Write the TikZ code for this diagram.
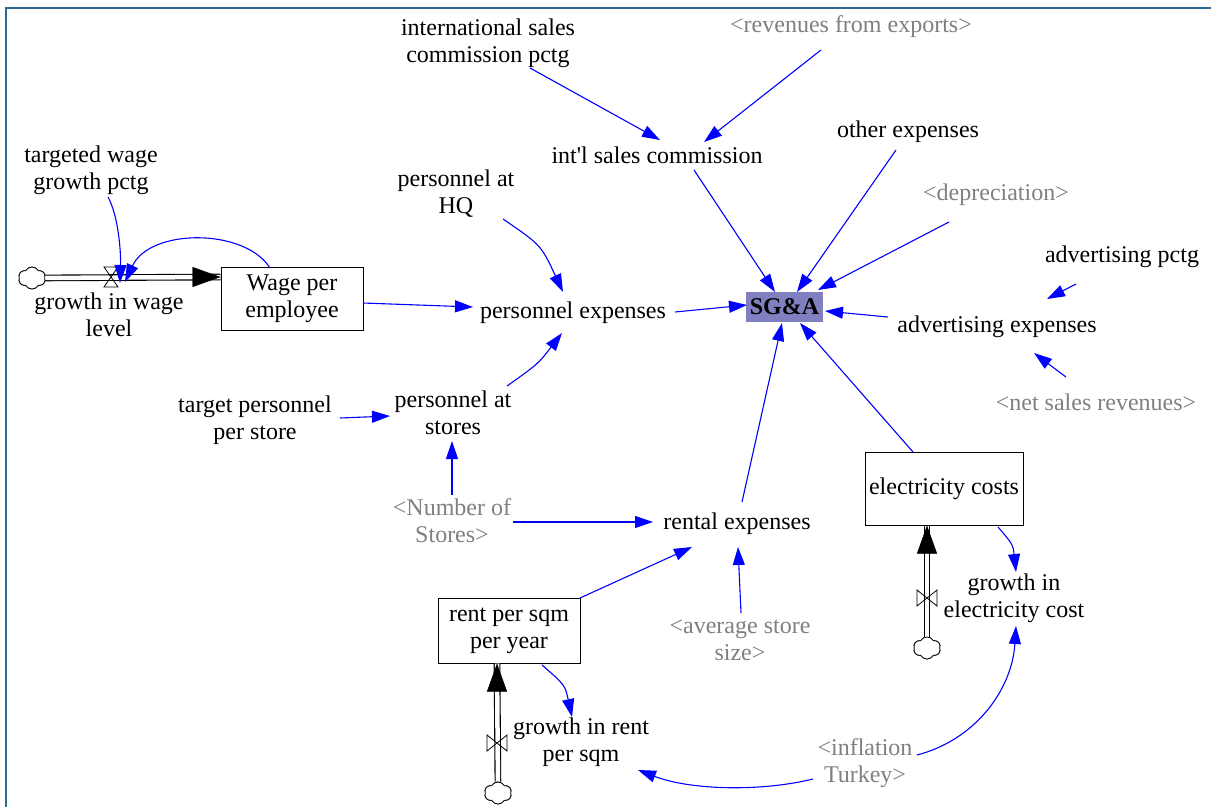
\documentclass[tikz,border=0pt]{standalone}
\usepackage{fontspec}
\setmainfont{Liberation Serif}
\usetikzlibrary{arrows.meta,shapes.symbols}
\definecolor{frameblue}{RGB}{46,104,148}
\definecolor{shadowvar}{RGB}{128,128,128}
\definecolor{sgafill}{RGB}{128,128,192}
\definecolor{linkblue}{RGB}{0,0,255}

\begin{document}
\begin{tikzpicture}[x=1pt,y=-1pt,
  every node/.style={font=\fontsize{24}{27}\selectfont, inner sep=3pt, align=center},
  ghost/.style={text=shadowvar},
  stock/.style={draw=black, line width=1pt, fill=white, inner sep=0pt},
  link/.style={draw=linkblue, line width=1.1pt, -{Triangle[length=18pt,width=12pt]}},
  pipe/.style={draw=black, line width=1.1pt, double=white, double distance=4.5pt},
  flowtip/.style={draw=white, line width=0.4pt, -{Triangle[length=28pt,width=20pt,color=black]}},
  source/.style={cloud, cloud puffs=6, cloud puff arc=120, aspect=1.2, draw=black,
    line width=0.8pt, fill=white, minimum width=27pt, minimum height=22pt, inner sep=0pt},
  valve/.style={draw=black, line width=0.8pt}]

\useasboundingbox (0,0) rectangle (1211,807);
\fill[white] (0,0) rectangle (1211,807);
\draw[frameblue, line width=2.5pt] (6,807) -- (6,8) -- (1211,8);

% ---- auxiliaries and stocks ----
\node (ispct) at (488,43) {international sales\\commission pctg};
\node[ghost] (revexp) at (851,27) {<revenues from exports>};
\node (intl) at (657,155) {int\textquotesingle l sales commission};
\node (other) at (908,132) {other expenses};
\node[ghost] (depr) at (996,195) {<depreciation>};
\node (advp) at (1122,257) {advertising pctg};
\node (adve) at (997,327) {advertising expenses};
\node[ghost] (netsales) at (1096,402) {<net sales revenues>};
\node (twg) at (91,170) {targeted wage\\growth pctg};
\node (hq) at (456,194) {personnel at\\HQ};
\node[fill=sgafill, minimum width=77pt, minimum height=30pt, inner sep=0pt,
      font=\fontsize{24}{27}\selectfont\bfseries] (sga) at (784.5,307) {SG\&A};
\node (pexp) at (573,313) {personnel expenses};
\node (tps) at (255,420) {target personnel\\per store};
\node (pstores) at (453,413) {personnel at\\stores};
\node[ghost] (nstores) at (452,521) {<Number of\\Stores>};
\node (rental) at (737,524) {rental expenses};
\node[ghost] (avgsize) at (740,640) {<average store\\size>};
\node (gelec) at (1014,598) {growth in\\electricity cost};
\node (grent) at (581,742) {growth in rent\\per sqm};
\node[ghost] (infl) at (865,763) {<inflation\\Turkey>};
\node (gwl) at (109,315) {growth in wage\\level};

\node[stock, minimum width=142pt, minimum height=63pt] (wage) at (292,299) {Wage per\\employee};
\node[stock, minimum width=158pt, minimum height=73pt] (elec) at (944,488.5) {electricity costs};
\node[stock, minimum width=142pt, minimum height=65pt] (rent) at (509,630.5) {rent per sqm\\per year};

% ---- flow valves and sources ----
\coordinate (wv) at (111,277);
\coordinate (rv) at (497,743);
\coordinate (ev) at (927,598);
\node[source] (c1) at (32,278) {};
\node[source] (c2) at (498,793) {};
\node[source] (c3) at (927,648) {};

% pipes
\draw[pipe] (c1) -- ([shift={(0,-22)}]wage.west);
\draw[pipe] (c2) -- ([shift={(-12,0)}]rent.south);
\draw[pipe] (c3) -- ([shift={(-17,0)}]elec.south);
\draw[flowtip] (wv) -- ([shift={(0,-22)}]wage.west);
\draw[flowtip] (rv) -- ([shift={(-12,0)}]rent.south);
\draw[flowtip] (ev) -- ([shift={(-17,0)}]elec.south);
\node[source] at (c1) {};
\node[source] at (c2) {};
\node[source] at (c3) {};
\draw[valve] (wv) ++(-7,-10) -- ++(14,0) -- ++(-14,20) -- ++(14,0) -- cycle;
\draw[valve] (rv) ++(-10,-8) -- ++(0,16) -- ++(20,-16) -- ++(0,16) -- cycle;
\draw[valve] (ev) ++(-10,-8) -- ++(0,16) -- ++(20,-16) -- ++(0,16) -- cycle;

% ---- causal links ----
\draw[link] ([shift={(42,25)}]ispct.center) -- ([shift={(3,-15)}]intl.center);
\draw[link] ([shift={(-30,23)}]revexp.center) -- ([shift={(47,-13)}]intl.center);
\draw[link] ([shift={(37,15)}]intl.center) -- ([shift={(-9.5,-15)}]sga.center);
\draw[link] ([shift={(-12,18)}]other.center) -- ([shift={(12.5,-15)}]sga.center);
\draw[link] ([shift={(-47,27)}]depr.center) -- ([shift={(33.5,-17)}]sga.center);
\draw[link] ([shift={(-109,-10)}]adve.center) -- ([shift={(40.5,4)}]sga.center);
\draw[link] ([shift={(-46,27)}]advp.center) -- ([shift={(50,-28)}]adve.center);
\draw[link] ([shift={(-30,-25)}]netsales.center) -- ([shift={(37,26)}]adve.center);
\draw[link] ([shift={(102,-1)}]pexp.center) -- ([shift={(-37.5,-2)}]sga.center);
\draw[link] ([shift={(71,4)}]wage.center) -- ([shift={(-100,-6)}]pexp.center);
\draw[link] ([shift={(47,25)}]hq.center) .. controls (541,245) .. ([shift={(-10,-21)}]pexp.center);
\draw[link] ([shift={(54,-27)}]pstores.center) .. controls (538,364) .. ([shift={(-11,20)}]pexp.center);
\draw[link] ([shift={(85,-2)}]tps.center) -- ([shift={(-63,3)}]pstores.center);
\draw[link] ([shift={(0,-26)}]nstores.center) -- ([shift={(-1,28)}]pstores.center);
\draw[link] ([shift={(61,1)}]nstores.center) -- ([shift={(-84,-2)}]rental.center);
\draw[link] ([shift={(5,-22)}]rental.center) -- ([shift={(-2.5,16)}]sga.center);
\draw[link] ([shift={(-31,-36.5)}]elec.center) -- ([shift={(15.5,16)}]sga.center);
\draw[link] ([shift={(71,-32.5)}]rent.center) -- ([shift={(-45,23)}]rental.center);
\draw[link] ([shift={(1,-27)}]avgsize.center) -- ([shift={(1,23)}]rental.center);
\draw[link] ([shift={(17,27)}]twg.center) .. controls (118,215) and (121,250) .. ([shift={(9,6)}]wv);
\draw[link] ([shift={(-22,-31)}]wage.center) .. controls (245,228) and (150,228) .. ([shift={(14,5)}]wv);
\draw[link] ([shift={(33,34.5)}]rent.center) .. controls (565,685) .. ([shift={(-9,-25)}]grent.center);
\draw[link] ([shift={(54,38.5)}]elec.center) .. controls (1013,544.5) .. ([shift={(2,-26)}]gelec.center);
\draw[link] ([shift={(52,-8)}]infl.center) .. controls (975,740) and (1012,690) .. ([shift={(2,28)}]gelec.center);
\draw[link] ([shift={(-52,16)}]infl.center) .. controls (760,792) and (690,790) .. ([shift={(57,28)}]grent.center);

\end{tikzpicture}
\end{document}
